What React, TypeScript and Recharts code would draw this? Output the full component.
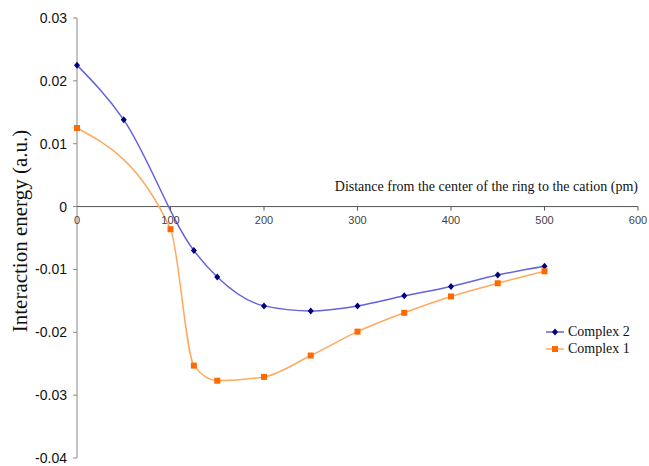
import React from 'react';
import {
  LineChart,
  Line,
  XAxis,
  YAxis,
  ReferenceLine,
} from 'recharts';

// distance from ring center (pm)
const distances = [0, 50, 100, 125, 150, 200, 250, 300, 350, 400, 450, 500];
const complex2 = [0.0225, 0.0138, null, -0.007, -0.0112, -0.0158, -0.0166, -0.0158, -0.0142, -0.0127, -0.0109, -0.0095];
const complex1 = [0.0125, null, -0.0036, -0.0253, -0.0277, -0.0271, -0.0237, -0.0199, -0.0169, -0.0143, -0.0122, -0.0103];
const xTicks = [0, 100, 200, 300, 400, 500, 600];
const yTicks = [-0.04, -0.03, -0.02, -0.01, 0, 0.01, 0.02, 0.03];

const data = distances.map((d, i) => ({ d, c2: complex2[i], c1: complex1[i] }));

const W = 649;
const H = 466;
const M = { top: 18, right: 11, bottom: 7, left: 0 };
const Y_W = 77;
const X_H = 1;
const plotH = H - M.top - M.bottom - X_H;
const zeroY = M.top + plotH * (0.03 / 0.07);

const BLUE_LINE = '#6464d8';
const BLUE_DOT = '#000080';
const ORANGE_LINE = '#ffaa5e';
const ORANGE_DOT = '#ff6a00';
const SERIF = 'Liberation Serif, Times New Roman, serif';
const SANS = 'Liberation Sans, Arial, sans-serif';

const Diamond = (props: any) => {
  const { cx, cy, value } = props;
  if (value == null || cx == null) return null;
  return (
    <path
      d={`M${cx},${cy - 3.5}L${cx + 3},${cy}L${cx},${cy + 3.5}L${cx - 3},${cy}Z`}
      fill={BLUE_DOT}
    />
  );
};

const Square = (props: any) => {
  const { cx, cy, value } = props;
  if (value == null || cx == null) return null;
  return <rect x={cx - 3} y={cy - 3} width={6} height={6} fill={ORANGE_DOT} />;
};

// x ticks are drawn along the zero line, not at the bottom
const XTick = (props: any) => {
  const { x, payload } = props;
  return (
    <g>
      {payload.value !== 0 && (
        <line x1={x} x2={x} y1={zeroY} y2={zeroY + 4} stroke="#555" />
      )}
      <text
        x={x}
        y={zeroY + 17}
        textAnchor="middle"
        fontFamily={SANS}
        fontSize={11}
        fill="#444"
      >
        {payload.value}
      </text>
    </g>
  );
};

const XTitle = (props: any) => {
  const vb = props.viewBox || {};
  return (
    <text x={vb.x + vb.width} y={vb.y - 16} textAnchor="end" fontFamily={SERIF} fontSize={14} fill="#111">
      Distance from the center of the ring to the cation (pm)
    </text>
  );
};

const YTitle = () => (
  <text
    x={27}
    y={231}
    transform="rotate(-90 27 231)"
    textAnchor="middle"
    fontFamily={SERIF}
    fontSize={21}
    fill="#111"
  >
    Interaction energy (a.u.)
  </text>
);

const legendItems = [
  { name: 'Complex 2', line: BLUE_LINE, dot: BLUE_DOT, shape: 'diamond' },
  { name: 'Complex 1', line: ORANGE_LINE, dot: ORANGE_DOT, shape: 'square' },
];

const LegendBox = () => (
  <div
    style={{
      position: 'absolute',
      left: 545,
      top: 323,
      fontFamily: SERIF,
      fontSize: 14,
      color: '#111',
      lineHeight: '17px',
    }}
  >
    {legendItems.map((it) => (
      <div key={it.name} style={{ display: 'flex', alignItems: 'center' }}>
        <svg width={20} height={10} style={{ marginRight: 3 }}>
          <line x1={1} x2={19} y1={5} y2={5} stroke={it.line} strokeWidth={1.5} />
          {it.shape === 'diamond' ? (
            <path d="M10,1.5L13,5L10,8.5L7,5Z" fill={it.dot} />
          ) : (
            <rect x={7} y={2} width={6} height={6} fill={it.dot} />
          )}
        </svg>
        <span>{it.name}</span>
      </div>
    ))}
  </div>
);

const App: React.FC = () => {
  return (
    <div style={{ position: 'absolute', left: 0, top: 0, width: W, height: H, background: '#fff' }}>
      <LineChart width={W} height={H} data={data} margin={M}>
        <XAxis
          dataKey="d"
          type="number"
          domain={[0, 600]}
          ticks={xTicks}
          height={X_H}
          axisLine={false}
          tickLine={false}
          tick={XTick}
          interval={0}
        />
        <YAxis
          type="number"
          domain={[-0.04, 0.03]}
          ticks={yTicks}
          width={Y_W}
          interval={0}
          tickSize={4}
          tickMargin={6}
          axisLine={{ stroke: '#888' }}
          tickLine={{ stroke: '#888' }}
          tick={{ fontFamily: SANS, fontSize: 14, fill: '#111' }}
          tickFormatter={(v: number) => String(Number(v.toFixed(2)))}
          label={<YTitle />}
        />
        <ReferenceLine y={0} stroke="#555" label={<XTitle />} />
        <Line
          type="monotone"
          dataKey="c2"
          stroke={BLUE_LINE}
          strokeWidth={1.5}
          dot={<Diamond />}
          connectNulls
          isAnimationActive={false}
        />
        <Line
          type="monotone"
          dataKey="c1"
          stroke={ORANGE_LINE}
          strokeWidth={1.5}
          dot={<Square />}
          connectNulls
          isAnimationActive={false}
        />
      </LineChart>
      <LegendBox />
    </div>
  );
};

export default App;
